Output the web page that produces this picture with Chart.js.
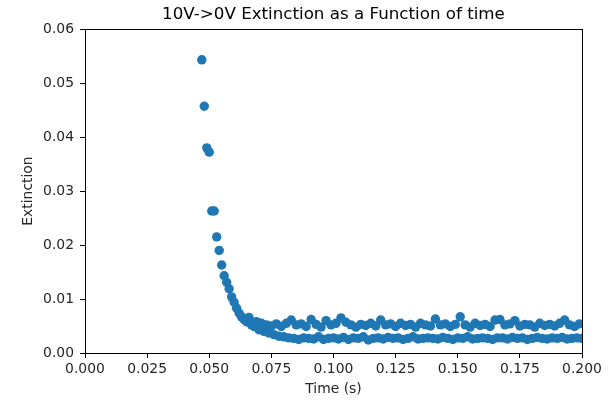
<!DOCTYPE html>
<html>
<head>
<meta charset="utf-8">
<script src="https://cdn.jsdelivr.net/npm/chart.js@4.4.0/dist/chart.umd.min.js"></script>
<style>
  body { margin: 0; background: #fff; }
  canvas { display: block; }
</style>
</head>
<body>
<canvas id="chart" width="608" height="401"></canvas>
<script>
// Extinction decay after the 10V -> 0V switch

var times = [
  0.047, 0.048, 0.049, 0.050, 0.051, 0.052, 0.053, 0.054, 0.055, 0.056,
  0.057, 0.058, 0.059, 0.060, 0.061, 0.062, 0.063, 0.064, 0.065, 0.066,
  0.067, 0.068, 0.069, 0.070, 0.071, 0.072, 0.073, 0.074, 0.075, 0.076,
  0.077, 0.078, 0.079, 0.080, 0.081, 0.082, 0.083, 0.084, 0.085, 0.086,
  0.087, 0.088, 0.089, 0.090, 0.091, 0.092, 0.093, 0.094, 0.095, 0.096,
  0.097, 0.098, 0.099, 0.100, 0.101, 0.102, 0.103, 0.104, 0.105, 0.106,
  0.107, 0.108, 0.109, 0.110, 0.111, 0.112, 0.113, 0.114, 0.115, 0.116,
  0.117, 0.118, 0.119, 0.120, 0.121, 0.122, 0.123, 0.124, 0.125, 0.126,
  0.127, 0.128, 0.129, 0.130, 0.131, 0.132, 0.133, 0.134, 0.135, 0.136,
  0.137, 0.138, 0.139, 0.140, 0.141, 0.142, 0.143, 0.144, 0.145, 0.146,
  0.147, 0.148, 0.149, 0.150, 0.151, 0.152, 0.153, 0.154, 0.155, 0.156,
  0.157, 0.158, 0.159, 0.160, 0.161, 0.162, 0.163, 0.164, 0.165, 0.166,
  0.167, 0.168, 0.169, 0.170, 0.171, 0.172, 0.173, 0.174, 0.175, 0.176,
  0.177, 0.178, 0.179, 0.180, 0.181, 0.182, 0.183, 0.184, 0.185, 0.186,
  0.187, 0.188, 0.189, 0.190, 0.191, 0.192, 0.193, 0.194, 0.195, 0.196,
  0.197, 0.198, 0.199, 0.200
];

var extinction = [
  0.0543, 0.0457, 0.0380, 0.0372, 0.0263, 0.0263, 0.0215, 0.0190, 0.0163, 0.0143,
  0.0131, 0.0119, 0.0104, 0.0094, 0.0083, 0.0074, 0.0067, 0.0062, 0.0058, 0.0066,
  0.0052, 0.0049, 0.0058, 0.0043, 0.0055, 0.0040, 0.0052, 0.0037, 0.0050, 0.0034,
  0.0054, 0.0031, 0.0049, 0.0030, 0.0055, 0.0028, 0.0061, 0.0027, 0.0052, 0.0025,
  0.0054, 0.0028, 0.0049, 0.0027, 0.0062, 0.0026, 0.0053, 0.0030, 0.0048, 0.0025,
  0.0060, 0.0027, 0.0052, 0.0028, 0.0055, 0.0026, 0.0065, 0.0029, 0.0057, 0.0025,
  0.0052, 0.0028, 0.0048, 0.0027, 0.0053, 0.0030, 0.0051, 0.0024, 0.0055, 0.0027,
  0.0050, 0.0028, 0.0061, 0.0026, 0.0052, 0.0029, 0.0054, 0.0027, 0.0049, 0.0028,
  0.0055, 0.0025, 0.0051, 0.0027, 0.0053, 0.0030, 0.0048, 0.0026, 0.0055, 0.0027,
  0.0052, 0.0028, 0.0050, 0.0027, 0.0063, 0.0026, 0.0052, 0.0029, 0.0054, 0.0027,
  0.0049, 0.0025, 0.0053, 0.0028, 0.0067, 0.0027, 0.0052, 0.0030, 0.0048, 0.0026,
  0.0055, 0.0027, 0.0051, 0.0028, 0.0053, 0.0027, 0.0049, 0.0025, 0.0061, 0.0028,
  0.0062, 0.0028, 0.0052, 0.0026, 0.0054, 0.0029, 0.0060, 0.0027, 0.0050, 0.0028,
  0.0053, 0.0025, 0.0052, 0.0027, 0.0048, 0.0029, 0.0055, 0.0027, 0.0051, 0.0026,
  0.0053, 0.0028, 0.0050, 0.0027, 0.0055, 0.0029, 0.0061, 0.0026, 0.0052, 0.0027,
  0.0049, 0.0028, 0.0054, 0.0027
];

var xTicks = ['0.000', '0.025', '0.050', '0.075', '0.100', '0.125', '0.150', '0.175', '0.200'];
var yTicks = ['0.00', '0.01', '0.02', '0.03', '0.04', '0.05', '0.06'];

var points = times.map(function (t, i) {
  return { x: t, y: extinction[i] };
});

// full box around the plot area, like a matplotlib axes frame
var frame = {
  id: 'frame',
  afterDraw: function (chart) {
    var a = chart.chartArea;
    var ctx = chart.ctx;
    ctx.save();
    ctx.strokeStyle = '#000';
    ctx.lineWidth = 1;
    ctx.strokeRect(Math.round(a.left) + 0.5, Math.round(a.top) + 0.5,
      Math.round(a.right - a.left), Math.round(a.bottom - a.top));
    ctx.restore();
  }
};

var tickFont = { family: 'DejaVu Sans', size: 13.9 };

var chart = new Chart(document.getElementById('chart').getContext('2d'), {
  type: 'scatter',
  data: {
    datasets: [
      {
        data: points,
        backgroundColor: '#1f77b4',
        borderWidth: 0,
        pointRadius: 4.7,
        pointHoverRadius: 4.7,
        clip: 0
      }
    ]
  },
  plugins: [frame],
  options: {
    responsive: false,
    animation: false,
    layout: { padding: { right: 26 } },
    plugins: {
      legend: { display: false },
      tooltip: { enabled: false },
      title: {
        display: true,
        text: '10V->0V Extinction as a Function of time',
        color: '#000',
        fullSize: false,
        font: { family: 'DejaVu Sans', size: 16.7, weight: 'normal' },
        padding: { top: 5, bottom: 4 }
      }
    },
    scales: {
      x: {
        type: 'linear',
        min: 0,
        max: 0.2,
        afterFit: function (scale) { scale.height = 48; },
        afterBuildTicks: function (scale) {
          scale.ticks = xTicks.map(function (s) { return { value: parseFloat(s) }; });
        },
        ticks: {
          color: '#262626',
          font: tickFont,
          padding: 3,
          maxRotation: 0,
          autoSkip: false,
          callback: function (value, index) { return xTicks[index]; }
        },
        grid: { drawOnChartArea: false, drawTicks: true, tickLength: 5, color: '#000' },
        border: { display: true, color: '#000' },
        title: {
          display: true,
          text: 'Time (s)',
          color: '#262626',
          font: tickFont,
          padding: { top: 4, bottom: 3 }
        }
      },
      y: {
        type: 'linear',
        min: 0,
        max: 0.06,
        afterFit: function (scale) { scale.width = 85; },
        afterBuildTicks: function (scale) {
          scale.ticks = yTicks.map(function (s) { return { value: parseFloat(s) }; });
        },
        ticks: {
          color: '#262626',
          font: tickFont,
          padding: 6,
          autoSkip: false,
          callback: function (value, index) { return yTicks[index]; }
        },
        grid: { drawOnChartArea: false, drawTicks: true, tickLength: 5, color: '#000' },
        border: { display: true, color: '#000' },
        title: {
          display: true,
          text: 'Extinction',
          color: '#262626',
          font: tickFont,
          padding: { top: 20, bottom: 0 }
        }
      }
    }
  }
});
</script>
</body>
</html>
